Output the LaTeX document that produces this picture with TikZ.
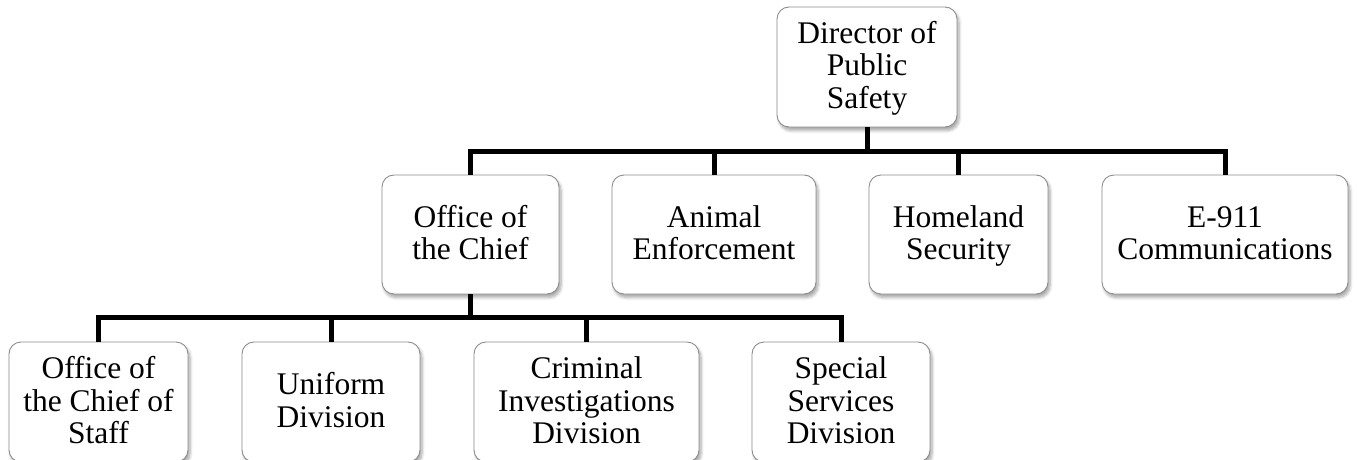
\documentclass[tikz,border=0pt]{standalone}
\usepackage{fontspec}
\setmainfont{Liberation Serif}
\usetikzlibrary{shadows.blur}
% one line of box text with a fixed strut so baselines line up across boxes;
% the first line gets a slightly taller strut to sit the text a little lower
\newcommand{\boxline}[1]{\strut #1}
\newcommand{\firstline}[1]{\rule{0pt}{\dimexpr\ht\strutbox+5pt\relax}\strut #1}
\begin{document}
\begin{tikzpicture}[x=1pt,y=-1pt,
  unitbox/.style={draw=black!45, line width=0.9pt, fill=white, rounded corners=12pt,
    align=center, inner sep=0pt, outer sep=0pt,
    font=\fontsize{31.5}{32.5}\selectfont,
    blur shadow={shadow xshift=2pt, shadow yshift=-3.5pt, shadow blur steps=6, shadow blur radius=3pt, shadow opacity=35}},
  conn/.style={line width=5pt, black}]
\useasboundingbox (0,0) rectangle (1357,460);

% top level
\node[unitbox, minimum width=180pt, minimum height=120pt] (dir) at (867,67) {\firstline{Director of}\\\boxline{Public}\\\boxline{Safety}};

% second level
\node[unitbox, minimum width=177pt, minimum height=119pt] (ooc) at (470.5,234.5) {\firstline{Office of}\\\boxline{the Chief}};
\node[unitbox, minimum width=204pt, minimum height=119pt] (ani) at (714,234.5) {\firstline{Animal}\\\boxline{Enforcement}};
\node[unitbox, minimum width=179pt, minimum height=119pt] (hom) at (958.5,234.5) {\firstline{Homeland}\\\boxline{Security}};
\node[unitbox, minimum width=246pt, minimum height=119pt] (e911) at (1225,234.5) {\firstline{E-911}\\\boxline{Communications}};

% third level
\node[unitbox, minimum width=179pt, minimum height=120pt] (cos) at (98.5,402) {\firstline{Office of}\\\boxline{the Chief of}\\\boxline{Staff}};
\node[unitbox, minimum width=178pt, minimum height=120pt] (uni) at (331,402) {\firstline{Uniform}\\\boxline{Division}};
\node[unitbox, minimum width=225pt, minimum height=120pt] (cri) at (586.5,402) {\firstline{Criminal}\\\boxline{Investigations}\\\boxline{Division}};
\node[unitbox, minimum width=178pt, minimum height=120pt] (spe) at (841,402) {\firstline{Special}\\\boxline{Services}\\\boxline{Division}};

% bus heights
\coordinate (busA) at (0,151);
\coordinate (busB) at (0,317);

% connectors
\foreach \c in {ooc,ani,hom,e911}
  \draw[conn] (dir.south) -- (dir.south |- busA) -| (\c.north);
\foreach \c in {cos,uni,cri,spe}
  \draw[conn] (ooc.south) -- (ooc.south |- busB) -| (\c.north);
\end{tikzpicture}
\end{document}
